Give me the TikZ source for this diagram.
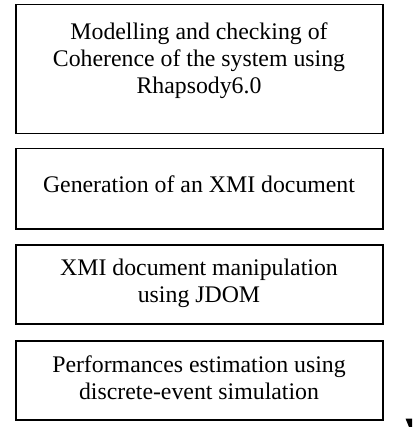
\documentclass[tikz,border=0pt]{standalone}
\usepackage{fontspec}
\setmainfont{Liberation Serif}
\begin{document}
\begin{tikzpicture}[x=1pt,y=-1pt,
  stepbox/.style={draw=black,line width=1.5pt,minimum width=367pt,inner sep=0pt,anchor=north west},
  steptext/.style={align=center,inner sep=0pt,anchor=north,font=\fontsize{23.8}{26.7}\selectfont}]
\useasboundingbox (0,0) rectangle (412,427);
\node[stepbox,minimum height=129pt] (b1) at (15,4) {};
\node[stepbox,minimum height=80pt] (b2) at (15,148) {};
\node[stepbox,minimum height=79pt] (b3) at (15,244) {};
\node[stepbox,minimum height=79pt] (b4) at (15,340) {};
\node[steptext] (t1) at (199,22.7) {Modelling and checking of\\Coherence of the system using\\Rhapsody6.0};
\node[steptext] (t2) at (199,176) {Generation of an XMI document};
\node[steptext] (t3) at (199,259) {XMI document manipulation\\using JDOM};
\node[steptext] (t4) at (199,356) {Performances estimation using\\discrete-event simulation};
\fill[black] (405.5,418.5) -- (412,418.5) -- (412,427) -- (409,427) -- cycle;
\end{tikzpicture}
\end{document}
